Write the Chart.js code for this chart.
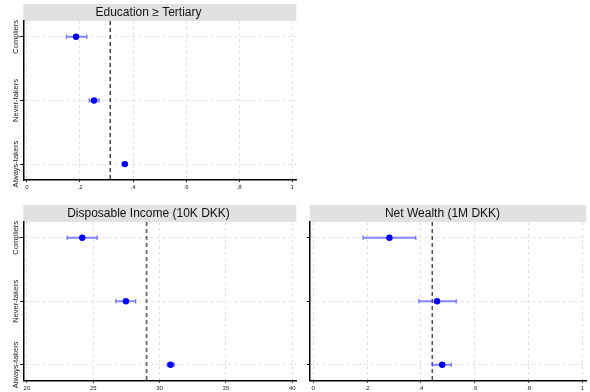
<!DOCTYPE html>
<html>
<head>
<meta charset="utf-8">
<script src="https://cdn.jsdelivr.net/npm/chart.js@4.4.1/dist/chart.umd.min.js"></script>
<style>
  html, body { margin: 0; padding: 0; background: #fff; }
  body { width: 590px; height: 392px; position: relative; overflow: hidden; }
  .panel { position: absolute; }
</style>
</head>
<body>
<div class="panel" style="left:0;top:0;width:300px;height:195px"><canvas id="edu"></canvas></div>
<div class="panel" style="left:0;top:195px;width:300px;height:197px"><canvas id="inc"></canvas></div>
<div class="panel" style="left:295px;top:195px;width:295px;height:197px"><canvas id="wealth"></canvas></div>
<script>
// Group labels (top to bottom)
const categories = ['Compliers', 'Never-takers', 'Always-takers'];

// Education >= Tertiary (share)
const eduMean = [0.185, 0.253, 0.369];
const eduLo   = [0.149, 0.235, 0.360];
const eduHi   = [0.226, 0.272, 0.378];
const eduRef  = 0.314;
const eduTicks = [0, 0.2, 0.4, 0.6, 0.8, 1];

// Disposable income (10K DKK)
const incMean = [24.17, 27.46, 30.83];
const incLo   = [23.04, 26.70, 30.58];
const incHi   = [25.30, 28.20, 31.10];
const incRef  = 29.02;
const incTicks = [20, 25, 30, 35, 40];

// Net wealth (1M DKK)
const wealthMean = [0.283, 0.460, 0.479];
const wealthLo   = [0.185, 0.392, 0.443];
const wealthHi   = [0.381, 0.531, 0.513];
const wealthRef  = 0.442;
const wealthTicks = [0, 0.2, 0.4, 0.6, 0.8, 1];

const FONT = '"Liberation Sans", Arial, sans-serif';

function fmtTick(v) {
  if (v === 0) return '0';
  if (v === 1) return '1';
  if (Math.abs(v) < 1) return String(v).replace(/^0/, '');
  return String(v);
}

// Grey strip behind the panel title plus rotated group labels on the left
const panelDecor = {
  id: 'panelDecor',
  beforeDraw(chart) {
    const ctx = chart.ctx;
    const tb = chart.titleBlock;
    const a = chart.chartArea;
    ctx.save();
    ctx.fillStyle = '#e1e1e1';
    ctx.fillRect(a.left, tb.top, a.right - a.left, tb.bottom - tb.top);
    ctx.restore();
  },
  afterDraw(chart, args, opts) {
    if (!opts.showLabels) return;
    const ctx = chart.ctx;
    const y = chart.scales.y;
    ctx.save();
    ctx.fillStyle = '#222';
    ctx.font = '7.5px ' + FONT;
    ctx.textAlign = 'center';
    ctx.textBaseline = 'middle';
    categories.forEach((c, i) => {
      const py = y.getPixelForValue(i + 1);
      ctx.save();
      ctx.translate(opts.labelX, py);
      ctx.rotate(-Math.PI / 2);
      ctx.fillText(c, 0, 0);
      ctx.restore();
    });
    ctx.restore();
  }
};

function makePanel(id, title, mean, lo, hi, ref, ticks, cfg) {
  const span = ticks[ticks.length - 1] - ticks[0];
  const xmin = ticks[0] - cfg.padL * span;
  const xmax = ticks[ticks.length - 1] + cfg.padR * span;

  const datasets = [];
  // point estimates (drawn on top)
  datasets.push({
    type: 'scatter',
    data: mean.map((m, i) => ({ x: m, y: i + 1 })),
    pointRadius: 3.2,
    pointHoverRadius: 3.2,
    pointBackgroundColor: '#0000ff',
    pointBorderColor: '#0000ff',
    pointBorderWidth: 0,
    order: 0
  });
  // confidence intervals with end caps
  mean.forEach((m, i) => {
    datasets.push({
      type: 'line',
      data: [{ x: lo[i], y: i + 1 }, { x: hi[i], y: i + 1 }],
      borderColor: 'rgba(95,95,255,0.75)',
      borderWidth: 2,
      pointStyle: 'line',
      rotation: 90,
      pointRadius: 2.2,
      pointBorderColor: 'rgba(95,95,255,0.75)',
      pointBorderWidth: 1.4,
      pointHoverRadius: 2.2,
      fill: false,
      order: 1
    });
  });
  // reference line
  datasets.push({
    type: 'line',
    data: [{ x: ref, y: 0.75 }, { x: ref, y: 3.25 }],
    borderColor: cfg.refColor,
    borderWidth: cfg.refWidth,
    borderDash: [4, 3],
    pointRadius: 0,
    fill: false,
    order: 2
  });

  return new Chart(document.getElementById(id), {
    type: 'scatter',
    data: { datasets },
    plugins: [panelDecor],
    options: {
      responsive: true,
      maintainAspectRatio: false,
      animation: false,
      events: [],
      layout: { padding: { top: cfg.top, right: cfg.right, bottom: 0, left: 0 } },
      plugins: {
        legend: { display: false },
        tooltip: { enabled: false },
        title: {
          display: true,
          text: title,
          color: '#111',
          font: { family: FONT, size: 12, weight: 'normal', lineHeight: 1.2 },
          padding: { top: 1.5, bottom: 1.0 }
        },
        panelDecor: { showLabels: cfg.showLabels, labelX: 15.5 }
      },
      scales: {
        x: {
          type: 'linear',
          min: xmin,
          max: xmax,
          afterBuildTicks: s => { s.ticks = ticks.map(v => ({ value: v })); },
          afterFit: s => { s.height = cfg.xH; },
          grid: {
            color: '#e2e2e2',
            lineWidth: 1,
            tickColor: '#000',
            tickLength: 2,
            tickWidth: 1,
            tickBorderDash: []
          },
          border: { display: true, color: '#000', width: 1.5, dash: [3, 3] },
          ticks: {
            color: '#222',
            font: { family: FONT, size: 6 },
            padding: 2,
            maxRotation: 0,
            autoSkip: false,
            callback: v => fmtTick(v)
          }
        },
        y: {
          type: 'linear',
          reverse: true,
          min: 0.75,
          max: 3.25,
          afterBuildTicks: s => { s.ticks = categories.map((c, i) => ({ value: i + 1 })); },
          afterFit: s => { s.width = cfg.yW; },
          grid: {
            color: '#e2e2e2',
            lineWidth: 1,
            tickColor: '#000',
            tickLength: 3,
            tickWidth: 1,
            tickBorderDash: []
          },
          border: { display: true, color: '#000', width: 1.5, dash: [3, 3] },
          ticks: { display: false }
        }
      }
    }
  });
}

makePanel('edu', 'Education \u2265 Tertiary', eduMean, eduLo, eduHi, eduRef, eduTicks,
  { padL: 0.0135, padR: 0.0155, top: 4, right: 3, yW: 23.3, xH: 15, showLabels: true,
    refColor: '#111', refWidth: 1.2 });
makePanel('inc', 'Disposable Income (10K DKK)', incMean, incLo, incHi, incRef, incTicks,
  { padL: 0.0135, padR: 0.0155, top: 10, right: 3, yW: 23.3, xH: 11.3, showLabels: true,
    refColor: '#666', refWidth: 1.8 });
makePanel('wealth', 'Net Wealth (1M DKK)', wealthMean, wealthLo, wealthHi, wealthRef, wealthTicks,
  { padL: 0.0132, padR: 0.0147, top: 10, right: 0, yW: 14.7, xH: 11.3, showLabels: false,
    refColor: '#333', refWidth: 1.3 });
</script>
</body>
</html>
